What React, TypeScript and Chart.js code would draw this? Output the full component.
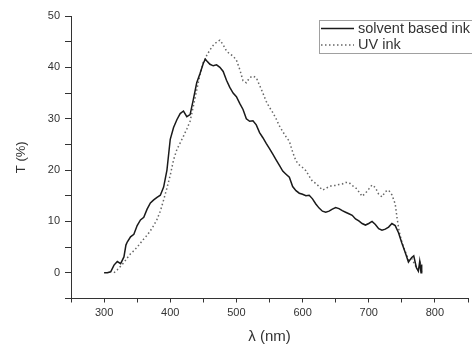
import React, { useEffect, useRef } from "react";
import { Chart, registerables } from "chart.js";

Chart.register(...registerables);

const seriesLabels = ["solvent based ink", "UV ink"];

const solventWavelengths = [
  300, 305, 310, 315, 320, 325, 330, 333, 335, 340, 345, 350, 355, 360, 365, 370, 375, 380, 385, 390,
  395, 400, 405, 410, 415, 420, 425, 430, 435, 440, 445, 450, 453, 455, 460, 465, 470, 475, 480, 485,
  490, 495, 500, 505, 510, 515, 520, 525, 530, 535, 540, 545, 550, 555, 560, 565, 570, 575, 580, 585,
  590, 595, 600, 605, 610, 615, 620, 625, 630, 635, 640, 645, 650, 655, 660, 665, 670, 675, 680, 685,
  690, 695, 700, 705, 710, 715, 720, 725, 730, 735, 740, 745, 750, 755, 760, 765, 768, 772, 775, 777,
  779, 780,
];
const solventValues = [
  0, 0, 0.2, 1.5, 2.2, 1.8, 3.1, 5.4, 6.0, 7.0, 7.5, 9.2, 10.3, 10.8, 12.4, 13.6, 14.2, 14.7, 15.1, 16.7,
  20.0, 26.0, 28.3, 29.8, 31.0, 31.5, 30.4, 30.8, 33.8, 37.0, 38.8, 40.8, 41.6, 41.3, 40.6, 40.3, 40.5, 40.0, 39.2, 37.5,
  36.1, 35.0, 34.3, 33.0, 31.8, 30.0, 29.5, 29.6, 28.8, 27.3, 26.3, 25.2, 24.2, 23.1, 22.0, 20.9, 19.8, 19.2, 18.6, 16.8,
  16.0, 15.5, 15.3, 15.0, 15.1, 14.4, 13.4, 12.6, 12.0, 11.8, 12.0, 12.4, 12.7, 12.5, 12.1, 11.8, 11.5, 11.2, 10.5, 10.1,
  9.6, 9.3, 9.6, 10.0, 9.4, 8.6, 8.3, 8.5, 8.9, 9.6, 9.2, 7.8, 5.8, 4.0, 2.1, 3.0, 3.3, 1.0, 0.3, 2.2,
  0, 1.6,
];

const uvWavelengths = [
  315, 320, 325, 330, 335, 340, 345, 350, 355, 360, 365, 370, 375, 380, 385, 390, 395, 400, 405, 410,
  415, 420, 425, 430, 435, 440, 445, 450, 455, 460, 465, 470, 475, 480, 485, 490, 495, 500, 505, 510,
  515, 520, 525, 530, 535, 540, 545, 550, 555, 560, 565, 570, 575, 580, 585, 590, 595, 600, 605, 610,
  615, 620, 625, 630, 635, 640, 645, 650, 655, 660, 665, 670, 675, 680, 685, 690, 695, 700, 705, 710,
  715, 720, 725, 730, 735, 740, 743, 746, 750, 755, 760, 765, 770, 775, 778, 780,
];
const uvValues = [
  0, 0.6, 1.3, 2.0, 2.9, 3.7, 4.3, 5.0, 5.8, 6.6, 7.3, 8.2, 9.2, 10.4, 12.0, 14.2, 16.5, 19.0, 22.0, 24.0,
  25.3, 26.6, 28.0, 29.5, 32.5, 35.6, 38.6, 41.0, 42.3, 43.4, 44.3, 44.9, 45.3, 44.4, 43.2, 42.6, 42.2, 41.4, 39.6, 37.4,
  37.0, 38.0, 38.3, 38.0, 36.5, 35.0, 33.4, 32.2, 31.2, 30.0, 28.6, 27.5, 26.5, 25.6, 23.5, 21.8, 21.0, 20.5, 19.9, 18.8,
  17.8, 17.4, 16.8, 16.1, 16.4, 16.8, 17.0, 17.0, 17.2, 17.3, 17.6, 17.6, 17.0, 16.6, 15.8, 14.9, 15.5, 16.3, 17.1, 16.6,
  15.3, 14.8, 15.8, 16.1, 15.2, 13.4, 10.5, 8.0, 6.0, 4.2, 2.5, 2.8, 1.5, 0.5, 1.8, 0,
];

const xTickStep = 50;
const yTickStep = 5;

const FONT = "'Liberation Sans', Arial, sans-serif";
const TEXT = "#333";

const boxLegend = {
  id: "boxLegend",
  afterDraw(chart: any) {
    const ctx = chart.ctx;
    const sets = chart.data.datasets;
    ctx.save();
    ctx.strokeStyle = "#a0a0a0";
    ctx.lineWidth = 1;
    ctx.strokeRect(319.5, 20.5, 170, 33);
    const rows = [28.5, 45];
    sets.forEach((ds: any, i: number) => {
      const y = rows[i];
      ctx.beginPath();
      ctx.strokeStyle = ds.borderColor;
      ctx.lineWidth = ds.borderWidth;
      ctx.setLineDash(ds.borderDash || []);
      ctx.moveTo(321, y);
      ctx.lineTo(354, y);
      ctx.stroke();
      ctx.setLineDash([]);
      ctx.fillStyle = TEXT;
      ctx.font = `14.5px ${FONT}`;
      ctx.textBaseline = "middle";
      ctx.textAlign = "left";
      ctx.fillText(ds.label, 358, y);
    });
    ctx.restore();
  },
};

export default function App() {
  const ref = useRef<HTMLCanvasElement | null>(null);
  useEffect(() => {
    if (!ref.current) return;
    const chart = new Chart(ref.current, {
      type: "line",
      data: {
        datasets: [
          {
            label: seriesLabels[0],
            data: solventWavelengths.map((x, i) => ({ x, y: solventValues[i] })),
            borderColor: "#1a1a1a",
            borderWidth: 1.5,
            pointRadius: 0,
            tension: 0,
            fill: false,
          },
          {
            label: seriesLabels[1],
            data: uvWavelengths.map((x, i) => ({ x, y: uvValues[i] })),
            borderColor: "#666",
            borderWidth: 1.5,
            borderDash: [1.5, 2.5],
            pointRadius: 0,
            tension: 0,
            fill: false,
          },
        ],
      },
      options: {
        animation: false,
        responsive: false,
        devicePixelRatio: 1,
        layout: { padding: { top: 16, right: 1, left: 0, bottom: 0 } },
        plugins: { legend: { display: false }, tooltip: { enabled: false } },
        scales: {
          x: {
            type: "linear",
            min: 250,
            max: 850,
            border: { color: "#333", width: 1 },
            grid: { drawOnChartArea: false, drawTicks: true, tickLength: 4, tickColor: "#333" },
            ticks: {
              stepSize: xTickStep,
              autoSkip: false,
              maxRotation: 0,
              padding: 4,
              color: TEXT,
              font: { family: FONT, size: 11 },
              callback: (v: any) => (Number(v) % 100 === 0 ? String(v) : ""),
            },
            title: {
              display: true,
              text: "λ (nm)",
              color: TEXT,
              font: { family: FONT, size: 15, lineHeight: 1 },
              padding: { top: 0, bottom: 0 },
            },
            afterFit: (s: any) => {
              s.height = 45.5;
            },
          },
          y: {
            min: -5,
            max: 50,
            border: { color: "#333", width: 1 },
            grid: { drawOnChartArea: false, drawTicks: true, tickLength: 6, tickColor: "#333" },
            ticks: {
              stepSize: yTickStep,
              autoSkip: false,
              padding: 5,
              color: TEXT,
              font: { family: FONT, size: 11 },
              callback: (v: any) => (Number(v) % 10 === 0 ? String(v) : ""),
            },
            title: {
              display: true,
              text: "T (%)",
              color: TEXT,
              font: { family: FONT, size: 13, lineHeight: 1.2 },
              padding: { top: 14, bottom: 0 },
            },
            afterFit: (s: any) => {
              s.width = 71;
            },
          },
        },
      },
      plugins: [boxLegend],
    });
    return () => chart.destroy();
  }, []);
  return (
    <canvas
      ref={ref}
      width={472}
      height={344}
      style={{ position: "absolute", left: 0, top: 0, width: 472, height: 344 }}
    />
  );
}
